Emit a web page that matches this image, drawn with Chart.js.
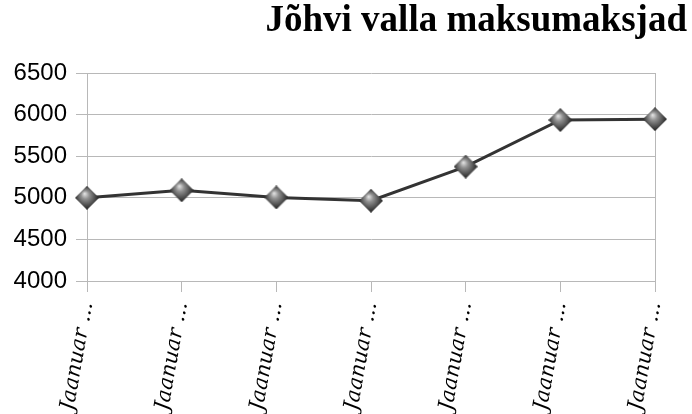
<!DOCTYPE html>
<html>
<head>
<meta charset="utf-8">
<script src="https://cdn.jsdelivr.net/npm/chart.js@4/dist/chart.umd.min.js"></script>
<style>
  html, body { margin: 0; padding: 0; background: #fff; overflow: hidden; }
  #wrap { width: 692px; height: 414px; }
</style>
</head>
<body>
<div id="wrap"><canvas id="grafik" width="692" height="414"></canvas></div>
<script>
/* ---------- andmed ---------- */
const kuud = ["Jaanuar ...", "Jaanuar ...", "Jaanuar ...", "Jaanuar ...", "Jaanuar ...", "Jaanuar ...", "Jaanuar ..."];
const maksumaksjad = [5000, 5090, 5005, 4965, 5375, 5935, 5945];
const yMin = 4000;
const yMax = 6500;
const ySamm = 500;

const joonVarv = "#333333";
const ruudustik = "#b8b8b8";

/* ---------- markeri pilt (hall romb) ---------- */
function teeRomb(suurus) {
    const c = document.createElement("canvas");
    c.width = suurus;
    c.height = suurus;
    const g = c.getContext("2d");
    const h = suurus / 2;
    const grad = g.createRadialGradient(h * 0.8, h * 0.65, 0, h, h, h * 1.15);
    grad.addColorStop(0, "#e8e8e8");
    grad.addColorStop(0.3, "#909090");
    grad.addColorStop(0.75, "#3a3a3a");
    grad.addColorStop(1, "#151515");
    g.beginPath();
    g.moveTo(h, 0);
    g.lineTo(suurus, h);
    g.lineTo(h, suurus);
    g.lineTo(0, h);
    g.closePath();
    g.fillStyle = grad;
    g.fill();
    return c;
}
const romb = teeRomb(24);

new Chart(document.getElementById("grafik"), {
    type: "line",
    data: {
        labels: kuud,
        datasets: [{
            data: maksumaksjad,
            borderColor: joonVarv,
            borderWidth: 3,
            pointStyle: romb,
            pointRadius: 12,
            pointHoverRadius: 12,
            tension: 0
        }]
    },
    options: {
        responsive: false,
        animation: false,
        devicePixelRatio: 1,
        layout: { padding: { left: 0, right: 5, top: 0, bottom: 0 } },
        plugins: {
            legend: { display: false },
            tooltip: { enabled: false },
            title: {
                display: true,
                text: "Jõhvi valla maksumaksjad",
                align: "end",
                color: "#000",
                font: { family: "'Liberation Serif', 'Times New Roman', serif", size: 37, weight: "bold", lineHeight: 0.9 },
                padding: { top: 5, bottom: 34.7 }
            }
        },
        scales: {
            x: {
                offset: false,
                grid: {
                    color: (ctx) => (ctx.index === 0 || ctx.index === kuud.length - 1) ? ruudustik : "rgba(0,0,0,0)",
                    tickColor: ruudustik,
                    tickLength: 11,
                    lineWidth: 1
                },
                border: { color: ruudustik },
                ticks: {
                    autoSkip: false,
                    minRotation: 80,
                    maxRotation: 80,
                    padding: 8,
                    color: "#000",
                    font: { family: "'DejaVu Serif', serif", style: "italic", size: 21 }
                },
                afterFit: (scale) => { scale.height = 133; }
            },
            y: {
                min: yMin,
                max: yMax,
                grid: { color: ruudustik, tickColor: ruudustik, tickLength: 11 },
                border: { color: ruudustik },
                ticks: {
                    stepSize: ySamm,
                    padding: 9,
                    color: "#000",
                    font: { family: "'Liberation Sans', Arial, sans-serif", size: 24 },
                    callback: (v) => String(v)
                },
                afterFit: (scale) => { scale.width = 87; }
            },
            parem: {
                position: "right",
                grid: { display: false },
                border: { display: false },
                ticks: { display: false },
                afterFit: (scale) => { scale.width = 32; }
            }
        }
    }
});
</script>
</body>
</html>
